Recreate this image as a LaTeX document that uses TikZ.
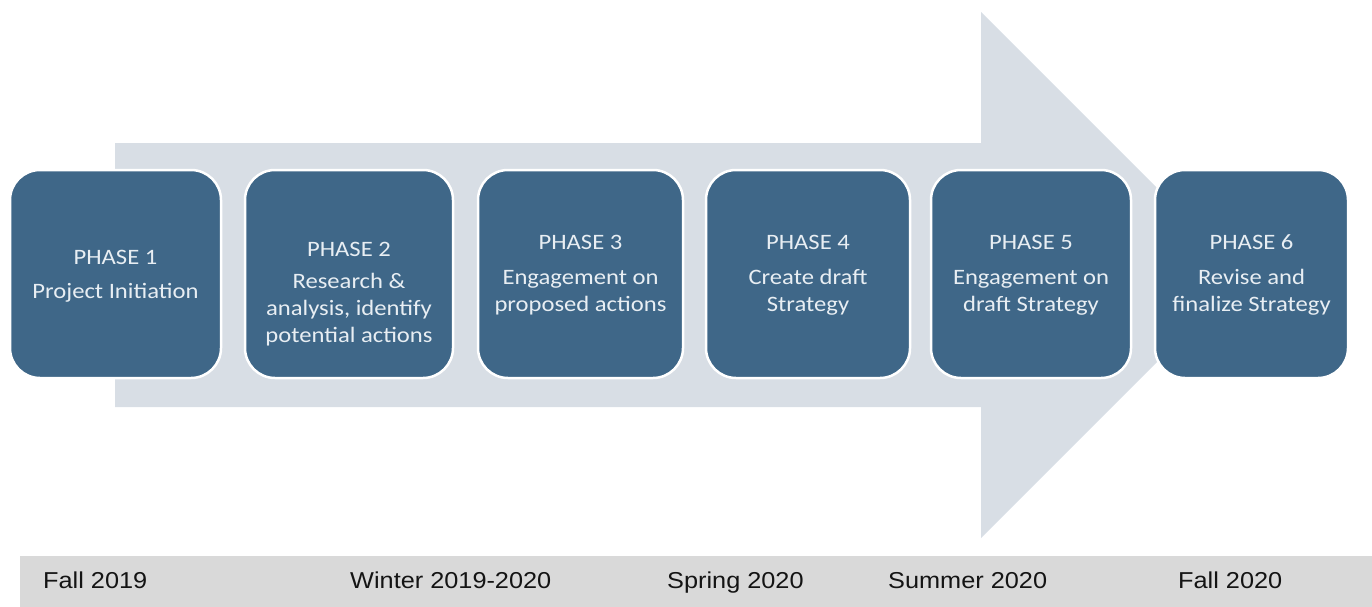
\documentclass[tikz,border=0pt]{standalone}
\usepackage{fontspec}
\newfontfamily\boxfont[FakeStretch=1.12]{Carlito}
\newfontfamily\datefont[FakeStretch=1.1]{Liberation Sans}
\definecolor{arrowfill}{HTML}{D8DEE5}
\definecolor{boxfill}{HTML}{3F6788}
\definecolor{boxtext}{HTML}{E8EEF3}
\definecolor{bandfill}{HTML}{D9D9D9}
\definecolor{datetext}{HTML}{141414}
\tikzset{
  phasebox/.style={draw=white, line width=2.5pt, fill=boxfill, rounded corners=30pt, inner sep=0pt},
  phtext/.style={text=boxtext, align=center, font=\boxfont\fontsize{22}{27}\selectfont, inner sep=0pt},
  datelabel/.style={anchor=base west, text=datetext, font=\datefont\fontsize{23}{27}\selectfont, inner sep=0pt}
}
\begin{document}
\begin{tikzpicture}[x=1pt,y=-1pt]
\useasboundingbox (0,0) rectangle (1372,607);
% big background arrow
\fill[arrowfill] (115,143) -- (981,143) -- (981,12) -- (1244,275) -- (981,538) -- (981,407) -- (115,407) -- cycle;
% phase boxes
\draw[phasebox] (10,170) rectangle (221,378);
\draw[phasebox] (245,170) rectangle (453,378);
\draw[phasebox] (478,170) rectangle (683,378);
\draw[phasebox] (706,170) rectangle (910,378);
\draw[phasebox] (931,170) rectangle (1131,378);
\draw[phasebox] (1155,170) rectangle (1348,378);
\coordinate (b1) at (115.5,274);
\coordinate (b2) at (349,274);
\coordinate (b3) at (580.5,274);
\coordinate (b4) at (808,274);
\coordinate (b5) at (1031,274);
\coordinate (b6) at (1251.5,274);
\node[phtext] (t1) at ([yshift=-2pt]b1) {PHASE 1\\[7pt]Project Initiation};
\node[phtext] (t2) at ([yshift=-20pt]b2) {PHASE 2\\[5pt]Research \&\\analysis, identify\\potential actions};
\node[phtext] (t3) at ([yshift=-1pt]b3) {PHASE 3\\[8pt]Engagement on\\proposed actions};
\node[phtext] (t4) at ([yshift=-1pt]b4) {PHASE 4\\[8pt]Create draft\\Strategy};
\node[phtext] (t5) at ([yshift=-1pt]b5) {PHASE 5\\[8pt]Engagement on\\draft Strategy};
\node[phtext] (t6) at ([yshift=-1pt]b6) {PHASE 6\\[8pt]Revise and\\finalize Strategy};
% timeline band
\fill[bandfill] (20,556) rectangle (1372,607);
\node[datelabel] (d1) at (43,588) {Fall 2019};
\node[datelabel] (d2) at (350,588) {Winter 2019-2020};
\node[datelabel] (d3) at (667,588) {Spring 2020};
\node[datelabel] (d4) at (888,588) {Summer 2020};
\node[datelabel] (d5) at (1178,588) {Fall 2020};
\end{tikzpicture}
\end{document}
